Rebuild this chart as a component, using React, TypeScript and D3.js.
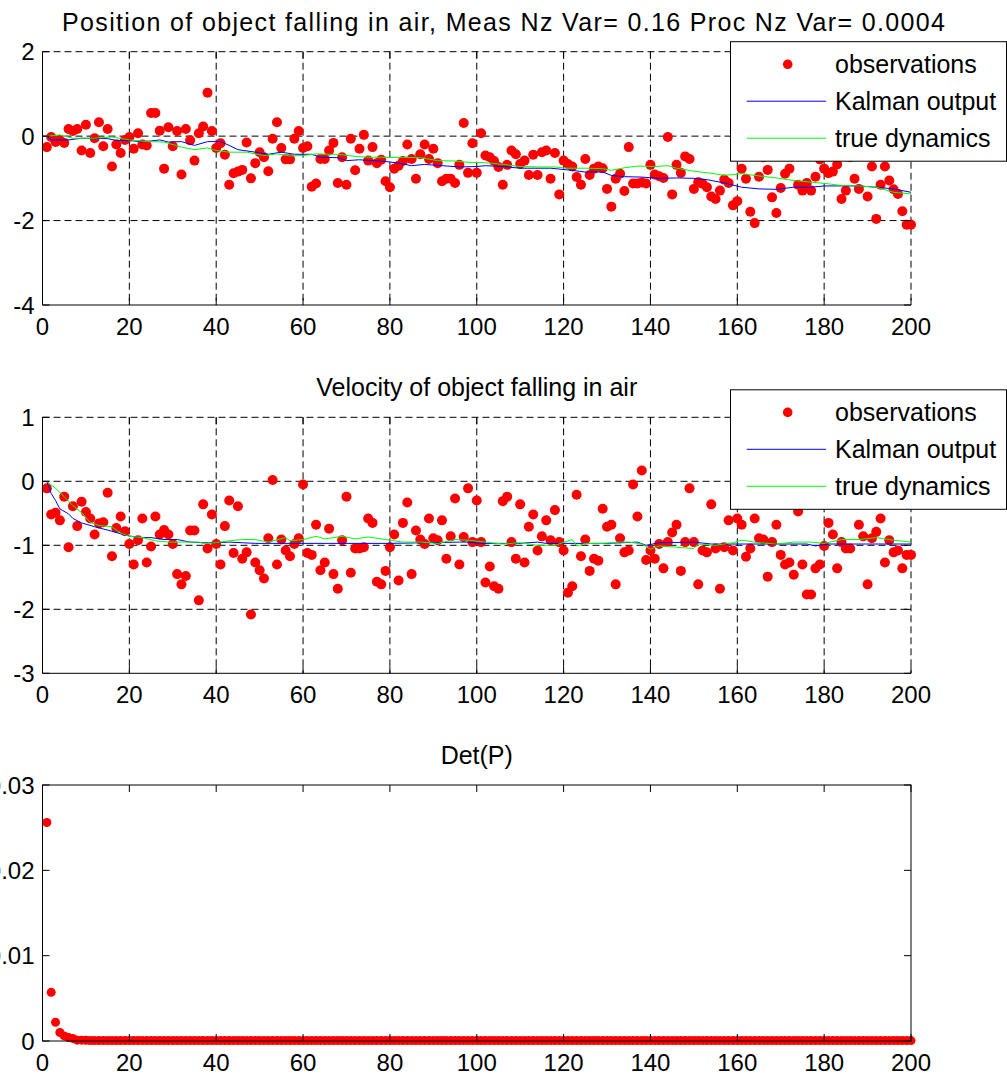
import React from 'react';
import * as d3 from 'd3';

// ---------- data ----------
const xTicks = [0, 20, 40, 60, 80, 100, 120, 140, 160, 180, 200];

const posTitle = 'Position of object falling in air, Meas Nz Var= 0.16 Proc Nz Var= 0.0004';
const velTitle = 'Velocity of object falling in air';
const detTitle = 'Det(P)';
const legendLabels = ['observations', 'Kalman output', 'true dynamics'];

const posYTicks = [-4, -2, 0, 2];
const velYTicks = [-3, -2, -1, 0, 1];
const detYTicks = [0, 0.01, 0.02, 0.03];
const detYLabels = ['0', '0.01', '0.02', '0.03'];

const posObs = [
  -0.26, -0.02, -0.14, -0.09, -0.16, 0.17, 0.12, 0.17, -0.34, 0.27,
  -0.40, -0.05, 0.33, -0.24, 0.17, -0.72, -0.20, -0.40, -0.09, -0.02,
  -0.30, 0.07, -0.20, -0.22, 0.55, 0.55, 0.13, -0.77, 0.21, -0.24,
  0.12, -0.91, 0.17, -0.10, -0.58, 0.07, 0.23, 1.03, 0.12, -0.28,
  -0.17, -0.44, -1.15, -0.88, -0.84, -0.80, -0.15, -1.00, -0.64, -0.38,
  -0.50, -0.83, -0.06, 0.33, -0.28, -0.55, -0.55, -0.06, 0.12, -0.28,
  -0.24, -1.20, -1.12, -0.54, -0.54, -0.34, -0.16, -1.11, -0.50, -1.15,
  -0.06, -0.81, -0.30, 0.03, -0.58, -0.26, -0.64, -0.56, -1.07, -1.21,
  -0.77, -0.70, -0.59, -0.20, -0.54, -1.01, -0.43, -0.20, -0.54, -0.30,
  -0.64, -1.07, -1.01, -1.01, -1.11, -0.68, 0.31, -0.87, -0.17, -0.87,
  0.07, -0.46, -0.50, -0.59, -0.73, -1.15, -0.68, -0.34, -0.43, -0.66,
  -0.58, -0.92, -0.44, -0.92, -0.38, -0.34, -1.01, -0.40, -1.38, -0.58,
  -0.66, -0.72, -0.97, -1.15, -0.54, -0.92, -0.77, -0.72, -0.76, -1.25,
  -1.67, -1.01, -0.89, -1.30, -0.26, -1.12, -1.12, -1.10, -1.12, -0.68,
  -0.91, -0.95, -0.99, -0.02, -1.38, -0.68, -0.87, -0.48, -0.54, -1.25,
  -1.09, -1.13, -1.21, -1.43, -1.49, -1.29, -1.03, -1.11, -1.64, -1.54,
  -0.77, -1.01, -1.79, -2.06, -0.96, -0.50, -0.80, -1.45, -1.82, -1.23,
  -0.89, -0.77, -0.45, -1.15, -1.29, -1.11, -1.29, -0.96, -0.55, -0.77,
  -0.88, -0.84, -0.67, -1.49, -1.29, -0.50, -1.01, -1.25, -0.40, -1.43,
  -0.72, -1.96, -1.15, -0.72, -1.05, -1.26, -1.37, -1.78, -2.10, -2.10,
];

const posKalX = [1, 2, 6, 9, 15, 17, 20, 23, 27, 29, 32, 35, 38, 41, 43, 45, 49, 52, 55, 58,
  62, 64, 68, 70, 73, 76, 79, 82, 85, 88, 92, 96, 100, 102, 106, 110, 117, 121, 125, 129,
  131, 134, 138, 142, 146, 150, 153, 157, 161, 165, 169, 173, 177, 180, 184, 188, 192, 196, 200];
const posKalY = [0, -0.09, -0.09, -0.05, -0.06, -0.1, -0.1, -0.14, -0.09, -0.14,
  -0.13, -0.22, -0.13, -0.13, -0.22, -0.32, -0.38, -0.43, -0.38, -0.43,
  -0.43, -0.5, -0.51, -0.58, -0.56, -0.58, -0.6, -0.64, -0.7, -0.67,
  -0.7, -0.73, -0.72, -0.7, -0.72, -0.76, -0.76, -0.8, -0.85, -0.85,
  -0.93, -0.96, -0.97, -1.0, -0.99, -1.0, -1.03, -1.11, -1.21, -1.25,
  -1.26, -1.21, -1.21, -1.18, -1.18, -1.18, -1.21, -1.25, -1.33];

const posTrueX = [1, 4, 7, 12, 16, 20, 24, 28, 32, 35, 38, 40, 43, 47, 51, 54, 57, 60, 63, 66,
  68, 72, 75, 78, 79, 83, 87, 91, 95, 98, 102, 106, 110, 114, 118, 121, 125, 129, 131, 134,
  137, 141, 144, 146, 150, 154, 157, 161, 164, 169, 173, 177, 181, 184, 188, 192, 196, 200];
const posTrueY = [0, 0.03, -0.05, -0.05, -0.02, -0.09, -0.13, -0.14, -0.26, -0.32,
  -0.28, -0.34, -0.38, -0.38, -0.46, -0.42, -0.47, -0.46, -0.42, -0.43,
  -0.43, -0.48, -0.5, -0.5, -0.51, -0.5, -0.51, -0.58, -0.59, -0.62,
  -0.63, -0.67, -0.72, -0.73, -0.73, -0.76, -0.76, -0.77, -0.81, -0.75,
  -0.71, -0.72, -0.7, -0.76, -0.83, -0.88, -0.93, -0.89, -0.93, -0.99,
  -1.05, -1.09, -1.13, -1.17, -1.18, -1.21, -1.33, -1.37];

const velObs = [
  -0.11, -0.52, -0.49, -0.61, -0.24, -1.03, -0.39, -0.70, -0.32, -0.48,
  -0.58, -0.83, -0.66, -0.64, -0.18, -1.17, -0.73, -0.55, -0.78, -0.98,
  -1.30, -0.92, -0.58, -1.27, -1.02, -0.55, -0.83, -0.76, -0.83, -0.98,
  -1.45, -1.61, -1.48, -0.77, -0.77, -1.86, -0.36, -1.05, -0.52, -0.98,
  -1.30, -0.70, -0.30, -1.12, -0.39, -1.21, -1.11, -2.08, -1.27, -1.39,
  -1.52, -0.89, 0.02, -1.30, -0.91, -1.08, -1.17, -0.98, -0.89, -0.05,
  -1.12, -1.15, -0.68, -1.39, -1.27, -0.74, -1.45, -1.68, -0.92, -0.24,
  -1.43, -1.05, -1.05, -1.03, -0.58, -0.65, -1.57, -1.61, -1.40, -1.03,
  -0.83, -1.55, -0.65, -0.33, -1.45, -0.77, -0.91, -0.98, -0.58, -0.89,
  -0.92, -0.61, -1.21, -0.86, -0.27, -1.30, -0.87, -0.11, -0.95, -0.30,
  -0.95, -1.58, -1.33, -1.64, -1.68, -0.31, -0.24, -0.95, -1.21, -0.36,
  -1.27, -0.71, -0.52, -1.08, -0.86, -0.61, -0.92, -0.45, -0.95, -1.08,
  -1.74, -1.64, -0.21, -1.17, -0.91, -1.40, -1.21, -1.24, -0.43, -0.71,
  -0.68, -1.61, -0.89, -1.11, -1.08, -0.05, -0.55, 0.17, -1.23, -1.08,
  -1.21, -0.98, -1.36, -0.95, -0.80, -0.68, -1.40, -0.95, -0.11, -0.95,
  -1.61, -1.08, -1.11, -0.36, -1.05, -1.68, -1.03, -0.61, -1.08, -0.58,
  -0.68, -1.18, -1.05, -0.58, -0.89, -0.91, -1.49, -0.95, -0.68, -1.15,
  -1.30, -1.27, -1.46, -0.47, -1.30, -1.77, -1.77, -1.36, -1.30, -1.01,
  -0.65, -0.83, -1.36, -0.95, -1.05, -1.05, -0.30, -0.68, -0.86, -1.61,
  -0.89, -0.79, -0.58, -1.27, -0.92, -1.11, -1.08, -1.36, -1.15, -1.15,
];

const velKalX = [1, 2, 3, 4, 6, 7, 9, 12, 16, 19, 22, 25, 28, 31, 34, 37, 40, 43, 46, 49,
  52, 58, 66, 80, 96, 98, 101, 104, 110, 114, 116, 120, 130, 137, 139, 142, 150, 154, 176, 178,
  181, 200];
const velKalY = [0, -0.19, -0.3, -0.43, -0.51, -0.58, -0.65, -0.71, -0.78, -0.84,
  -0.88, -0.88, -0.91, -0.91, -0.95, -0.96, -0.96, -0.95, -0.96, -0.97,
  -0.97, -0.97, -0.97, -0.97, -0.95, -0.95, -0.97, -0.97, -0.97, -0.95,
  -0.97, -0.97, -0.97, -0.95, -1.0, -0.96, -0.95, -0.98, -0.98, -1.01,
  -0.98, -0.98];

const velTrueX = [1, 3, 5, 7, 9, 11, 13, 16, 18, 20, 23, 26, 29, 32, 36, 37, 40, 43, 46, 49,
  52, 56, 57, 60, 63, 65, 69, 72, 75, 79, 83, 87, 91, 95, 98, 102, 106, 110, 114, 118,
  122, 123, 125, 129, 133, 135, 138, 140, 142, 146, 150, 151, 155, 159, 161, 165, 169, 173, 177, 180,
  184, 188, 192, 196, 200];
const velTrueY = [0, -0.11, -0.24, -0.38, -0.49, -0.64, -0.69, -0.71, -0.81, -0.86,
  -0.88, -0.93, -0.95, -0.95, -0.95, -0.97, -0.96, -0.93, -0.91, -0.91,
  -0.95, -0.88, -0.93, -0.91, -0.86, -0.9, -0.86, -0.9, -0.87, -0.91,
  -0.95, -0.95, -0.97, -0.91, -0.92, -0.95, -0.98, -0.96, -1.0, -1.0,
  -0.91, -1.01, -0.97, -0.97, -0.95, -0.95, -0.98, -1.06, -1.01, -1.03,
  -1.05, -0.98, -1.0, -0.96, -0.92, -0.96, -0.98, -0.95, -0.95, -0.97,
  -0.91, -0.91, -0.88, -0.92, -0.95];

const detP = [
  0.0256, 0.0057, 0.0022, 0.0010, 0.0006, 0.0004, 0.0003, 0.0001, 0.0001, 0.00008,
  0.00006, 0.00005, 0.00005, 0.00005, 0.00005, 0.00005, 0.00005, 0.00005, 0.00005, 0.00005,
  0.00005, 0.00005, 0.00005, 0.00005, 0.00005, 0.00005, 0.00005, 0.00005, 0.00005, 0.00005,
  0.00005, 0.00005, 0.00005, 0.00005, 0.00005, 0.00005, 0.00005, 0.00005, 0.00005, 0.00005,
  0.00005, 0.00005, 0.00005, 0.00005, 0.00005, 0.00005, 0.00005, 0.00005, 0.00005, 0.00005,
  0.00005, 0.00005, 0.00005, 0.00005, 0.00005, 0.00005, 0.00005, 0.00005, 0.00005, 0.00005,
  0.00005, 0.00005, 0.00005, 0.00005, 0.00005, 0.00005, 0.00005, 0.00005, 0.00005, 0.00005,
  0.00005, 0.00005, 0.00005, 0.00005, 0.00005, 0.00005, 0.00005, 0.00005, 0.00005, 0.00005,
  0.00005, 0.00005, 0.00005, 0.00005, 0.00005, 0.00005, 0.00005, 0.00005, 0.00005, 0.00005,
  0.00005, 0.00005, 0.00005, 0.00005, 0.00005, 0.00005, 0.00005, 0.00005, 0.00005, 0.00005,
  0.00005, 0.00005, 0.00005, 0.00005, 0.00005, 0.00005, 0.00005, 0.00005, 0.00005, 0.00005,
  0.00005, 0.00005, 0.00005, 0.00005, 0.00005, 0.00005, 0.00005, 0.00005, 0.00005, 0.00005,
  0.00005, 0.00005, 0.00005, 0.00005, 0.00005, 0.00005, 0.00005, 0.00005, 0.00005, 0.00005,
  0.00005, 0.00005, 0.00005, 0.00005, 0.00005, 0.00005, 0.00005, 0.00005, 0.00005, 0.00005,
  0.00005, 0.00005, 0.00005, 0.00005, 0.00005, 0.00005, 0.00005, 0.00005, 0.00005, 0.00005,
  0.00005, 0.00005, 0.00005, 0.00005, 0.00005, 0.00005, 0.00005, 0.00005, 0.00005, 0.00005,
  0.00005, 0.00005, 0.00005, 0.00005, 0.00005, 0.00005, 0.00005, 0.00005, 0.00005, 0.00005,
  0.00005, 0.00005, 0.00005, 0.00005, 0.00005, 0.00005, 0.00005, 0.00005, 0.00005, 0.00005,
  0.00005, 0.00005, 0.00005, 0.00005, 0.00005, 0.00005, 0.00005, 0.00005, 0.00005, 0.00005,
  0.00005, 0.00005, 0.00005, 0.00005, 0.00005, 0.00005, 0.00005, 0.00005, 0.00005, 0.00005,
];

// ---------- layout ----------
const W = 1007;
const H = 1076;
const X0 = 42.5;
const X1 = 911;
const FONT = '"Liberation Sans", Arial, Helvetica, sans-serif';
const RED = '#ff0000';
const BLUE = '#0000ff';
const GREEN = '#00ff00';
const TICK = 7;

const xScale = d3.scaleLinear().domain([0, 200]).range([X0, X1]);

type PanelProps = {
  top: number;
  bottom: number;
  yDomain: [number, number];
  yTicks: number[];
  yLabels: string[];
  grid: boolean;
  title: string;
  titleSpan?: [number, number];
  obs: number[];
  r: number;
  kal?: [number, number][];
  tru?: [number, number][];
  legendTop?: number;
};

function Panel(p: PanelProps) {
  const y = d3.scaleLinear().domain(p.yDomain).range([p.bottom, p.top]);
  const line = d3.line<[number, number]>().x((d) => xScale(d[0])).y((d) => y(d[1]));
  const dash = '7,4';
  return (
    <g>
      {p.grid && (
        <g stroke="#000" strokeWidth={1} strokeDasharray={dash} fill="none">
          {xTicks.slice(1, -1).map((t) => (
            <line key={'gx' + t} x1={xScale(t)} x2={xScale(t)} y1={p.top} y2={p.bottom} />
          ))}
          {p.yTicks.slice(1, -1).map((t) => (
            <line key={'gy' + t} x1={X0} x2={X1} y1={y(t)} y2={y(t)} />
          ))}
          <line x1={X0} x2={X1} y1={p.top} y2={p.top} />
          <line x1={X1} x2={X1} y1={p.top} y2={p.bottom} />
        </g>
      )}
      <g fill={RED}>
        {p.obs.map((v, i) => (
          <circle key={i} cx={xScale(i + 1)} cy={y(v)} r={p.r} />
        ))}
      </g>
      {p.kal && <path d={line(p.kal) || ''} fill="none" stroke={BLUE} strokeWidth={1} />}
      {p.tru && <path d={line(p.tru) || ''} fill="none" stroke={GREEN} strokeWidth={1} />}
      <g stroke="#000" strokeWidth={1} fill="none">
        {p.grid ? (
          <>
            <line x1={X0} x2={X0} y1={p.top} y2={p.bottom} />
            <line x1={X0} x2={X1} y1={p.bottom} y2={p.bottom} />
          </>
        ) : (
          <rect x={X0} y={p.top} width={X1 - X0} height={p.bottom - p.top} />
        )}
        {xTicks.map((t) => (
          <g key={'tx' + t}>
            <line x1={xScale(t)} x2={xScale(t)} y1={p.bottom} y2={p.bottom - TICK} />
            <line x1={xScale(t)} x2={xScale(t)} y1={p.top} y2={p.top + TICK} />
          </g>
        ))}
        {p.yTicks.map((t) => (
          <g key={'ty' + t}>
            <line x1={X0} x2={X0 + TICK} y1={y(t)} y2={y(t)} />
            <line x1={X1} x2={X1 - TICK} y1={y(t)} y2={y(t)} />
          </g>
        ))}
      </g>
      <g fontFamily={FONT} fontSize={24} fill="#000">
        {xTicks.map((t) => (
          <text key={'lx' + t} x={xScale(t)} y={p.bottom + 30} textAnchor="middle">
            {t}
          </text>
        ))}
        {p.yTicks.map((t, i) => (
          <text key={'ly' + t} x={34.5} y={y(t) + 8.5} textAnchor="end">
            {p.yLabels[i]}
          </text>
        ))}
      </g>
      {p.titleSpan ? (
        <text
          x={p.titleSpan[0]}
          y={p.top - 21}
          textAnchor="start"
          textLength={p.titleSpan[1] - p.titleSpan[0]}
          lengthAdjust="spacing"
          fontFamily={FONT}
          fontSize={25}
          fill="#000"
        >
          {p.title}
        </text>
      ) : (
        <text
          x={(X0 + X1) / 2}
          y={p.top - 21}
          textAnchor="middle"
          fontFamily={FONT}
          fontSize={25}
          fill="#000"
        >
          {p.title}
        </text>
      )}
      {p.legendTop !== undefined && (
        <g>
          <rect
            x={730.5}
            y={p.legendTop}
            width={276}
            height={119.5}
            fill="#fff"
            stroke="#000"
            strokeWidth={1}
          />
          <circle cx={787.7} cy={p.legendTop + 22.6} r={4.8} fill={RED} />
          <line x1={746.7} x2={826} y1={p.legendTop + 59.5} y2={p.legendTop + 59.5} stroke={BLUE} strokeWidth={1} />
          <line x1={746.7} x2={826} y1={p.legendTop + 96.5} y2={p.legendTop + 96.5} stroke={GREEN} strokeWidth={1} />
          <g fontFamily={FONT} fontSize={25} fill="#000">
            {legendLabels.map((s, i) => (
              <text key={s} x={835} y={p.legendTop! + 22.6 + i * 37 + 9}>
                {s}
              </text>
            ))}
          </g>
        </g>
      )}
    </g>
  );
}

export default function App() {
  const posKal = d3.zip(posKalX, posKalY) as [number, number][];
  const posTrue = d3.zip(posTrueX, posTrueY) as [number, number][];
  const velKal = d3.zip(velKalX, velKalY) as [number, number][];
  const velTrue = d3.zip(velTrueX, velTrueY) as [number, number][];
  return (
    <svg
      width={W}
      height={H}
      viewBox={`0 0 ${W} ${H}`}
      style={{ position: 'absolute', left: 0, top: 0, background: '#fff' }}
    >
      <rect x={0} y={0} width={W} height={H} fill="#fff" />
      <Panel
        top={51.7}
        bottom={305}
        yDomain={[-4, 2]}
        yTicks={posYTicks}
        yLabels={posYTicks.map(String)}
        grid
        title={posTitle}
        titleSpan={[62, 945]}
        obs={posObs}
        r={5}
        kal={posKal}
        tru={posTrue}
        legendTop={41.7}
      />
      <Panel
        top={417.3}
        bottom={673.3}
        yDomain={[-3, 1]}
        yTicks={velYTicks}
        yLabels={velYTicks.map(String)}
        grid
        title={velTitle}
        obs={velObs}
        r={5}
        kal={velKal}
        tru={velTrue}
        legendTop={389.8}
      />
      <Panel
        top={785}
        bottom={1041}
        yDomain={[0, 0.03]}
        yTicks={detYTicks}
        yLabels={detYLabels}
        grid={false}
        title={detTitle}
        obs={detP}
        r={4.5}
      />
    </svg>
  );
}
